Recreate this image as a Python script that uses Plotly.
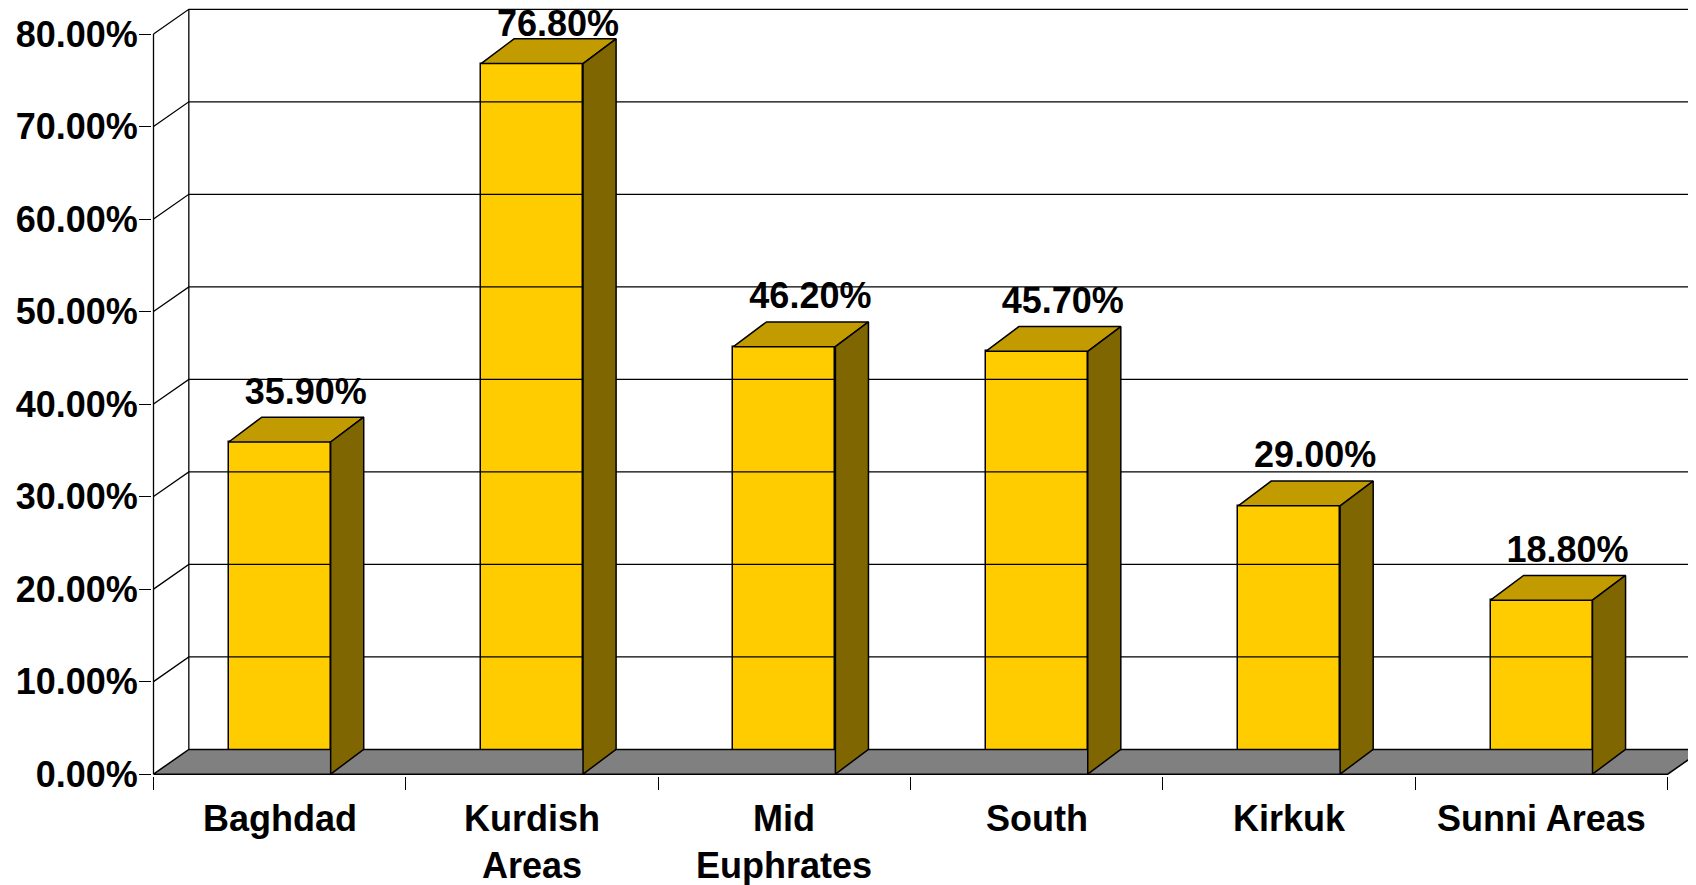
import plotly.graph_objects as go

# ---- data ----
categories = ["Baghdad", "Kurdish<br>Areas", "Mid<br>Euphrates", "South", "Kirkuk", "Sunni Areas"]
values = [35.9, 76.8, 46.2, 45.7, 29.0, 18.8]
y_ticks = [0, 10, 20, 30, 40, 50, 60, 70, 80]
value_labels = [f"{v:.2f}%" for v in values]
tick_labels = [f"{t:.2f}%" for t in y_ticks]

# ---- 3D geometry (data units) ----
WALL_DX, WALL_DY = 0.14, 2.67     # depth offset of back wall
BAR_DX, BAR_DY = 0.131, 2.68      # depth offset of bar tops/sides
BAR_W = 0.404
FONT = dict(family="Liberation Sans, Arial, sans-serif", size=36, color="black", weight="bold")

n = len(categories)
xs = list(range(n))
left = -0.5
right = n - 0.5
top = max(y_ticks)

# ---- canvas geometry (page has an 8px body margin) ----
PX_X = 252.4
PX_Y = 9.254
W, H = 1688, 877
ml = 143.8
plot_w = W - ml
x_lo = left - 1.5 / PX_X
x_hi = x_lo + plot_w / PX_X
y_lo = -0.2
y_hi = 82.81
plot_h = (y_hi - y_lo) * PX_Y
mb = H - plot_h
label_cap = y_hi - 19 / PX_Y   # keep value labels inside the chart area

fig = go.Figure()

# floor
fig.add_trace(go.Scatter(
    x=[left, right, right + WALL_DX, left + WALL_DX, left],
    y=[0, 0, WALL_DY, WALL_DY, 0],
    mode="lines", fill="toself", fillcolor="#808080",
    line=dict(color="black", width=1.5), hoverinfo="skip", showlegend=False))

# gridlines on left wall and back wall
gx, gy = [], []
for t in y_ticks:
    if t == 0:
        continue
    gx += [left, left + WALL_DX, right + WALL_DX, None]
    gy += [t, t + WALL_DY, t + WALL_DY, None]
gx += [left + WALL_DX, left + WALL_DX, None]
gy += [WALL_DY, top + WALL_DY, None]
gx += [left, left, None]
gy += [0, top, None]
fig.add_trace(go.Scatter(x=gx, y=gy, mode="lines",
                         line=dict(color="black", width=1.3),
                         hoverinfo="skip", showlegend=False))

# bar tops and sides
for x, v in zip(xs, values):
    x0, x1 = x - BAR_W / 2, x + BAR_W / 2
    fig.add_trace(go.Scatter(
        x=[x0, x1, x1 + BAR_DX, x0 + BAR_DX, x0],
        y=[v, v, v + BAR_DY, v + BAR_DY, v],
        mode="lines", fill="toself", fillcolor="#C29B00",
        line=dict(color="black", width=1.5), hoverinfo="skip", showlegend=False))
    fig.add_trace(go.Scatter(
        x=[x1, x1 + BAR_DX, x1 + BAR_DX, x1, x1],
        y=[0, BAR_DY, v + BAR_DY, v, 0],
        mode="lines", fill="toself", fillcolor="#806600",
        line=dict(color="black", width=1.5), hoverinfo="skip", showlegend=False))

# value labels
fig.add_trace(go.Scatter(
    x=[x + 0.103 for x in xs],
    y=[min(v + BAR_DY + 2.45, label_cap) for v in values],
    mode="text", text=value_labels, textposition="middle center",
    textfont=FONT, cliponaxis=False, hoverinfo="skip", showlegend=False))

# bar front faces
fig.add_trace(go.Bar(
    x=xs, y=values, width=BAR_W,
    marker=dict(color="#FFCC00", line=dict(color="black", width=1.5)),
    hoverinfo="skip", showlegend=False))

# category labels
for x, c in zip(xs, categories):
    fig.add_annotation(x=x, y=0, xref="x", yref="y", text=c, showarrow=False,
                       xanchor="center", yanchor="top", yshift=-22, align="center",
                       font=FONT)

fig.update_layout(
    width=W, height=H,
    margin=dict(l=ml, r=0, t=0, b=mb, pad=0),
    paper_bgcolor="white", plot_bgcolor="white",
    bargap=0, showlegend=False,
    xaxis=dict(range=[x_lo, x_hi], tickmode="array", tickvals=xs, ticktext=[""] * n,
               showticklabels=False, automargin=False,
               ticks="", showgrid=False, zeroline=False, showline=False,
               minor=dict(tickmode="array", tickvals=[i - 0.5 for i in range(n + 1)],
                          ticks="outside", ticklen=13, tickwidth=1.3, tickcolor="black",
                          showgrid=False)),
    yaxis=dict(range=[y_lo, y_hi], tickmode="array", tickvals=y_ticks, ticktext=tick_labels,
               ticks="outside", ticklen=12, tickwidth=1.3, tickcolor="black",
               ticklabelstandoff=-6, automargin=False,
               showgrid=False, zeroline=False, showline=False, tickfont=FONT),
)

fig.write_html("out.html")
